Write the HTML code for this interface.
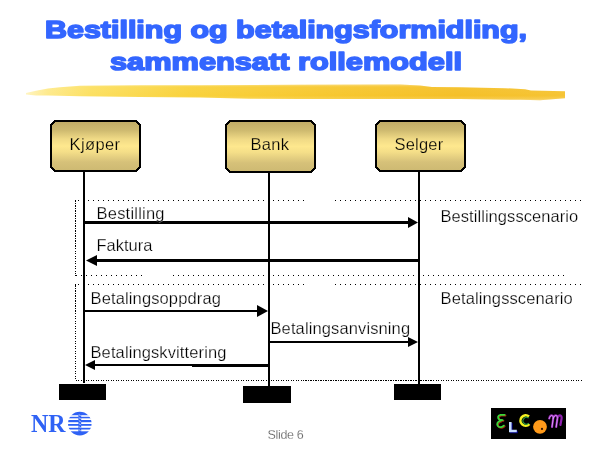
<!DOCTYPE html>
<html><head><meta charset="utf-8">
<style>
html,body{margin:0;padding:0;background:#fff;}
body{width:600px;height:450px;overflow:hidden;position:relative;}
svg{position:absolute;left:0;top:0;display:block;will-change:transform;}
text{font-family:"Liberation Sans",sans-serif;}
</style></head>
<body>
<svg width="600" height="450" viewBox="0 0 600 450">
<defs>
<linearGradient id="bx" x1="0" y1="0" x2="0" y2="1">
<stop offset="0" stop-color="#bfaa65"/>
<stop offset="0.18" stop-color="#cdb96f"/>
<stop offset="0.36" stop-color="#f0da86"/>
<stop offset="0.5" stop-color="#fee88e"/>
<stop offset="0.62" stop-color="#f4de88"/>
<stop offset="0.82" stop-color="#d6c179"/>
<stop offset="1" stop-color="#cdb972"/>
</linearGradient>
<linearGradient id="bxu" gradientUnits="userSpaceOnUse" x1="0" y1="121" x2="0" y2="171">
<stop offset="0" stop-color="#bfaa65"/>
<stop offset="0.18" stop-color="#cdb96f"/>
<stop offset="0.36" stop-color="#f0da86"/>
<stop offset="0.5" stop-color="#fee88e"/>
<stop offset="0.62" stop-color="#f4de88"/>
<stop offset="0.82" stop-color="#d6c179"/>
<stop offset="1" stop-color="#cdb972"/>
</linearGradient>
<linearGradient id="brh" gradientUnits="userSpaceOnUse" x1="26" y1="0" x2="565" y2="0">
<stop offset="0" stop-color="#fff4c0"/>
<stop offset="0.04" stop-color="#feea8c"/>
<stop offset="0.12" stop-color="#fce062"/>
<stop offset="0.3" stop-color="#f9d23c"/>
<stop offset="0.55" stop-color="#f7c830"/>
<stop offset="0.8" stop-color="#f5c028"/>
<stop offset="1" stop-color="#f6c434"/>
</linearGradient>
<linearGradient id="brv" gradientUnits="userSpaceOnUse" x1="0" y1="84.5" x2="0" y2="100.5">
<stop offset="0" stop-color="#fff" stop-opacity="0.35"/>
<stop offset="0.15" stop-color="#fff" stop-opacity="0.05"/>
<stop offset="0.7" stop-color="#fff" stop-opacity="0"/>
<stop offset="0.9" stop-color="#fff" stop-opacity="0.15"/>
<stop offset="1" stop-color="#fff" stop-opacity="0.4"/>
</linearGradient>
<clipPath id="nrc"><circle cx="79.8" cy="423.6" r="11.8"/></clipPath>
</defs>

<!-- Title -->
<g fill="#3366ff" stroke="#3366ff" stroke-width="1.6" stroke-linejoin="round" style="font-family:'Liberation Sans',sans-serif;font-weight:bold;font-size:24.8px">
<text x="45" y="37.5" textLength="482" lengthAdjust="spacingAndGlyphs">Bestilling og betalingsformidling,</text>
<text x="110" y="69.5" textLength="352" lengthAdjust="spacingAndGlyphs">sammensatt rollemodell</text>
</g>

<!-- Brush stroke -->
<path fill="url(#brh)" d="M26,93 L36,90.8 L48,88.6 L60,87.2 L80,85.8 L140,85.2 L200,85.2 L300,84.7 L400,84.6 L420,85.6 L432,87 L460,87.2 L505,88.2 L525,89.2 L531,90.6 L565,91.2 L565,98.2 L540,100.3 L520,99.8 L460,99 L360,99 L300,99 L250,98.8 L200,97.6 L140,97 L100,96.6 L80,96.2 L48,95.6 L36,95.4 L26,94.6 Z"/>
<path fill="url(#brv)" d="M26,93 L36,90.8 L48,88.6 L60,87.2 L80,85.8 L140,85.2 L200,85.2 L300,84.7 L400,84.6 L420,85.6 L432,87 L460,87.2 L505,88.2 L525,89.2 L531,90.6 L565,91.2 L565,98.2 L540,100.3 L520,99.8 L460,99 L360,99 L300,99 L250,98.8 L200,97.6 L140,97 L100,96.6 L80,96.2 L48,95.6 L36,95.4 L26,94.6 Z"/>
<!-- Boxes -->
<g stroke="#000" stroke-width="2" fill="url(#bx)" shape-rendering="crispEdges">
<path d="M55,121 L136,121 L140,125 L140,167 L136,171 L55,171 L51,167 L51,125 Z"/>
<path d="M230,121 L311,121 L315,125 L315,168 L311,172 L230,172 L226,168 L226,125 Z"/>
<path d="M380,121 L461,121 L465,125 L465,167 L461,171 L380,171 L376,167 L376,125 Z"/>
</g>
<g font-size="16.5" fill="#000" stroke="url(#bxu)" stroke-width="0.25">
<text x="69.5" y="150" textLength="50.6" lengthAdjust="spacing">Kjøper</text>
<text x="250.5" y="150" textLength="38.61" lengthAdjust="spacing">Bank</text>
<text x="394.5" y="150" textLength="48.69" lengthAdjust="spacing">Selger</text>
</g>

<!-- Lifelines and bars -->
<g fill="#000" shape-rendering="crispEdges">
<rect x="83" y="172" width="2" height="211"/>
<rect x="268" y="173" width="2" height="213"/>
<rect x="418" y="172" width="2" height="212"/>
<rect x="59" y="384" width="47" height="16"/>
<rect x="243" y="386" width="48" height="17"/>
<rect x="394" y="384" width="47" height="16"/>
</g>

<!-- Dotted lines -->
<g stroke="#000" stroke-width="1" shape-rendering="crispEdges" fill="none">
<!-- box1 -->
<line x1="78" y1="200.5" x2="304" y2="200.5" stroke-dasharray="1 4"/>
<line x1="335" y1="200.5" x2="581" y2="200.5" stroke-dasharray="1 4"/>
<line x1="75.5" y1="201" x2="75.5" y2="276" stroke-dasharray="1 1 1 2"/>
<line x1="75.5" y1="200" x2="75.5" y2="248" stroke-dasharray="1 4"/>
<line x1="75" y1="275.5" x2="77" y2="275.5"/>
<line x1="81" y1="275.5" x2="142" y2="275.5" stroke-dasharray="1 4"/>
<line x1="173" y1="275.5" x2="564" y2="275.5" stroke-dasharray="1 4"/>
<!-- box2 -->
<line x1="78" y1="284.5" x2="304" y2="284.5" stroke-dasharray="1 4"/>
<line x1="335" y1="284.5" x2="581" y2="284.5" stroke-dasharray="1 4"/>
<line x1="75.5" y1="284" x2="75.5" y2="285"/>
<line x1="75.5" y1="286" x2="75.5" y2="380" stroke-dasharray="1 1 1 2"/>
<line x1="75.5" y1="285" x2="75.5" y2="314" stroke-dasharray="1 4"/>
<line x1="76" y1="380.5" x2="582" y2="380.5" stroke-dasharray="1 1 1 2"/>
<line x1="305" y1="380.5" x2="432" y2="380.5" stroke-dasharray="1 4"/>
</g>

<!-- Arrows -->
<g fill="#000" shape-rendering="crispEdges">
<!-- Bestilling -->
<rect x="85" y="221" width="325" height="3"/>
<path d="M408,217 L418,222.5 L408,228 Z" shape-rendering="auto"/>
<!-- Faktura -->
<rect x="95" y="259" width="323" height="3"/>
<path d="M97,255 L86,260.5 L97,266 Z" shape-rendering="auto"/>
<!-- Betalingsoppdrag -->
<rect x="85" y="310" width="175" height="2"/>
<path d="M257,305 L268,311 L257,317 Z" shape-rendering="auto"/>
<!-- Betalingsanvisning -->
<rect x="270" y="341" width="140" height="2"/>
<path d="M408,337 L418,342 L408,347 Z" shape-rendering="auto"/>
<!-- Betalingskvittering -->
<rect x="93" y="364" width="99" height="2"/>
<rect x="192" y="364" width="76" height="3"/>
<path d="M95,360 L85,365 L95,370 Z" shape-rendering="auto"/>
</g>

<g font-size="16.5" fill="#000" stroke="#fff" stroke-width="0.25">
<text x="96.5" y="219" textLength="68.03" lengthAdjust="spacing">Bestilling</text>
<text x="96.5" y="251" textLength="55.93" lengthAdjust="spacing">Faktura</text>
<text x="90.5" y="304" textLength="130.42" lengthAdjust="spacing">Betalingsoppdrag</text>
<text x="270.5" y="334" textLength="139.58" lengthAdjust="spacing">Betalingsanvisning</text>
<text x="90.5" y="358" textLength="135.89" lengthAdjust="spacing">Betalingskvittering</text>
<text x="440.5" y="222" textLength="137.64" lengthAdjust="spacing">Bestillingsscenario</text>
<text x="440.5" y="304" textLength="132.24" lengthAdjust="spacing">Betalingsscenario</text>
</g>

<!-- Slide 6 -->
<text x="267.5" y="439" font-size="12.5" fill="#404040" stroke="#fff" stroke-width="0.3" textLength="36.22" lengthAdjust="spacing">Slide 6</text>

<!-- NR logo -->
<text x="31" y="432" font-weight="bold" font-size="26" fill="#2f62f5" textLength="34.5" lengthAdjust="spacingAndGlyphs" style="font-family:'Liberation Serif',serif">NR</text>
<g clip-path="url(#nrc)" fill="#2f62f5">
<rect x="66" y="411" width="28" height="4.2"/>
<rect x="66" y="416.8" width="28" height="1.5"/>
<rect x="66" y="420.0" width="28" height="2.2"/>
<rect x="66" y="424.0" width="28" height="1.8"/>
<rect x="66" y="427.8" width="28" height="1.7"/>
<rect x="66" y="431.3" width="28" height="5"/>
<rect x="78.4" y="412" width="2.8" height="22"/>
</g>
<path d="M79.2,414.5 l1.4,1.6 M79.2,417.5 l1.4,1.6 M79.2,420.5 l1.4,1.6 M79.2,423.5 l1.4,1.6 M79.2,426.5 l1.4,1.6 M79.2,429.5 l1.4,1.6" stroke="#fff" stroke-width="0.8" fill="none"/>

<!-- ELCOM logo -->
<rect x="491" y="408" width="75" height="31" fill="#000"/>
<g fill="none" stroke-linecap="round">
<path d="M504.6,414.8 L500.4,414.8 C497.6,415.2 497.2,418.6 499.6,419.6 L502.6,420.2 M500.6,420.8 C497.2,421.4 496.2,424.6 498.2,426.4 C499.6,427.6 502.6,427.4 503.8,425.6" stroke="#a02a10" stroke-width="1.8" transform="translate(0.9,0.7)"/>
<path d="M504.6,414.8 L500.4,414.8 C497.6,415.2 497.2,418.6 499.6,419.6 L502.6,420.2 M500.6,420.8 C497.2,421.4 496.2,424.6 498.2,426.4 C499.6,427.6 502.6,427.4 503.8,425.6" stroke="#3ad83a" stroke-width="1.8"/>
</g>
<path d="M510,423 h2.6 v7.8 h5.2 v2.4 h-7.8 Z" fill="#000088"/>
<path d="M509,422 h2.6 v7.8 h5.2 v2.4 h-7.8 Z" fill="#c8ddff"/>
<path d="M529,416.6 A5.2,5.2 0 1 0 529.4,424.2" fill="none" stroke="#f2f020" stroke-width="2.6"/>
<path d="M528.6,418.2 A3.4,3.4 0 1 0 528.8,423.2" fill="none" stroke="#2a9a40" stroke-width="1.1"/>
<circle cx="540" cy="426.8" r="6.9" fill="#ff9a1a"/>
<circle cx="542" cy="428.9" r="1.1" fill="#301000"/>
<g fill="none" stroke-linecap="round">
<path d="M549.2,418.5 C550.2,414.2 553.6,414.6 553.2,418.5 L552,427 M553.2,418.5 C554.4,414.2 557.8,414.6 557.4,418.5 L556.2,427 M557.4,418.5 C558.6,414.2 562,414.6 561.6,418.5 L560.4,425" stroke="#9020b0" stroke-width="2.2"/>
<path d="M549.2,418.5 C550.2,414.2 553.6,414.6 553.2,418.5 L552,427 M553.2,418.5 C554.4,414.2 557.8,414.6 557.4,418.5 L556.2,427" stroke="#e2a8ff" stroke-width="0.9"/>
</g>
</svg>
</body></html>
